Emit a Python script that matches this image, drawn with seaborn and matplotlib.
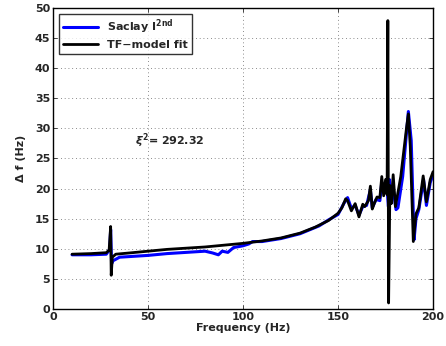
import matplotlib
matplotlib.use("Agg")
import matplotlib.pyplot as plt
import seaborn as sns
import pandas as pd

meas_freq = [10, 20, 28, 29.8, 30.3, 30.8, 31.5, 35, 40, 50, 60, 70, 80, 84, 87, 89, 92, 95,
             100, 103, 105, 110, 120, 130, 140, 145, 150, 153, 155, 157, 159, 161, 163, 165,
             167, 168, 170, 172, 173, 174, 175, 176, 176.5, 177, 178, 179, 180.5, 181.5, 184,
             187, 188.5, 190, 191, 192.5, 195, 196.5, 198.5, 200]
meas_val = [9.0, 9.0, 9.1, 9.9, 13.2, 7.5, 8.0, 8.6, 8.7, 8.9, 9.2, 9.4, 9.6, 9.3, 9.0, 9.6,
            9.4, 10.2, 10.5, 10.8, 11.2, 11.2, 11.7, 12.5, 13.8, 14.8, 15.7, 17.5, 18.5, 16.7,
            17.2, 15.6, 17.0, 17.2, 19.8, 16.8, 18.2, 18.0, 21.0, 19.5, 21.0, 19.0, 17.0, 21.5,
            19.0, 20.0, 16.5, 16.8, 22.0, 32.8, 28.0, 11.5, 15.0, 16.5, 21.5, 17.2, 21.0, 22.3]

fit_freq = [10, 20, 28, 29.5, 30.3, 30.6, 31.2, 33, 40, 50, 60, 70, 80, 90, 100, 110, 120,
            130, 138, 145, 150, 152, 154, 155, 157, 159, 161, 163, 164, 166, 167, 168, 169,
            170.5, 172, 173, 174, 175, 175.8, 176.2, 176.6, 177.3, 178, 179, 180.2, 183, 186,
            187, 188, 189.6, 191, 192.5, 194.8, 196.5, 198.5, 200]
fit_val = [9.1, 9.2, 9.35, 9.8, 13.7, 5.6, 8.6, 9.1, 9.3, 9.6, 9.9, 10.1, 10.3, 10.6, 10.9,
           11.3, 11.8, 12.6, 13.6, 14.7, 15.9, 16.8, 18.3, 18.0, 16.3, 17.5, 15.3, 17.4, 17.0,
           18.0, 20.4, 16.6, 17.5, 18.6, 18.5, 22.0, 18.8, 21.5, 19.0, 47.9, 1.0, 20.5, 17.5,
           22.3, 17.0, 22.0, 30.0, 32.4, 27.0, 11.2, 15.8, 16.8, 22.1, 17.8, 21.5, 22.8]

x_ticks = [0, 50, 100, 150, 200]
y_ticks = [0, 5, 10, 15, 20, 25, 30, 35, 40, 45, 50]
series_labels = [r"Saclay I$^{\mathbf{2nd}}$", "TF\u2212model fit"]
chi_text = r"$\xi^{\mathbf{2}}$= 292.32"

sns.set_style("white")
plt.rcParams["font.family"] = ["DejaVu Sans"]
plt.rcParams["font.weight"] = "bold"

fig = plt.figure(figsize=(4.46, 3.46), dpi=100)
ax = fig.add_axes([0.119, 0.107, 0.852, 0.870])

df_m = pd.DataFrame({"f": meas_freq, "v": meas_val})
df_f = pd.DataFrame({"f": fit_freq, "v": fit_val})
sns.lineplot(data=df_m, x="f", y="v", ax=ax, color="#0000ff", lw=2.2,
             label=series_labels[0], estimator=None, sort=False)
sns.lineplot(data=df_f, x="f", y="v", ax=ax, color="black", lw=2.0,
             label=series_labels[1], estimator=None, sort=False)

ax.set_xlim(0, 200)
ax.set_ylim(0, 50)
ax.set_xticks(x_ticks)
ax.set_yticks(y_ticks)
ax.set_xticklabels([str(t) for t in x_ticks], fontsize=8, fontweight="bold")
ax.set_yticklabels([str(t) for t in y_ticks], fontsize=8, fontweight="bold")
ax.tick_params(direction="in", length=3, width=0.6, pad=2,
               top=True, right=True, bottom=True, left=True)
ax.grid(True, linestyle=(0, (1, 3.5)), color="#666666", lw=0.6)
for s in ax.spines.values():
    s.set_color("black")
    s.set_linewidth(1.0)
ax.set_xlabel("Frequency (Hz)", fontsize=8, fontweight="bold", labelpad=1)
ax.set_ylabel("\u0394 f (Hz)", fontsize=8, fontweight="bold", labelpad=6)

ax.text(43, 28, chi_text, fontsize=8, fontweight="bold", va="center")

leg = ax.legend(loc="upper left", fontsize=8, frameon=True, fancybox=False,
                borderaxespad=0.5, handlelength=3.2, borderpad=0.35, labelspacing=0.35)
leg.get_frame().set_edgecolor("black")
leg.get_frame().set_linewidth(1.0)
for t in leg.get_texts():
    t.set_fontweight("bold")

fig.savefig("out.png", dpi=100)
